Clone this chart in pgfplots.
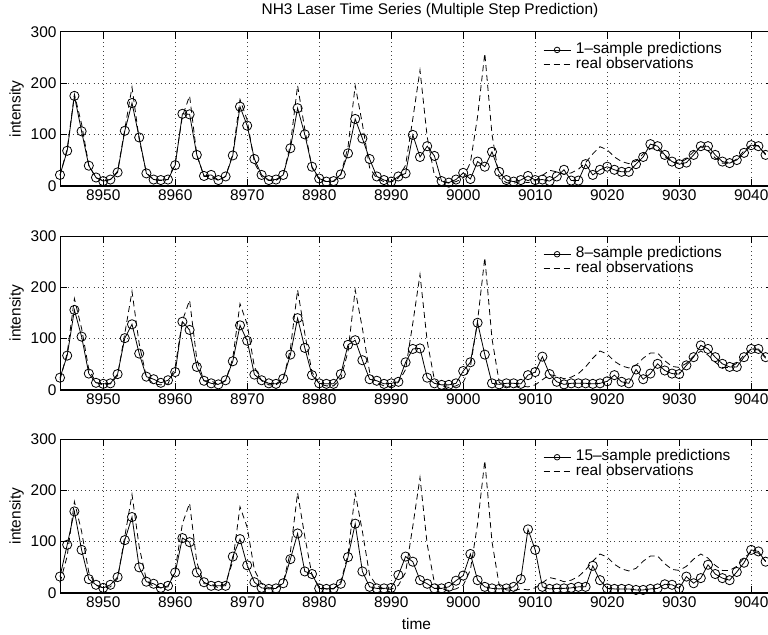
\documentclass[border=0pt]{standalone}
\usepackage{fontspec}
\setmainfont{Liberation Sans}
\usepackage{pgfplots}
\usepackage{pgfplotstable}
\pgfplotsset{compat=1.18}

% NH3 laser intensity: observations and 1-, 8- and 15-step-ahead predictions
\pgfplotstableread{
t    real  p1   p8   p15
8944  20   21   24   32
8945  72   68   67   94
8946 178  175  156  159
8947 120  106  104   84
8948  40   39   32   27
8949  15   16   14   16
8950  10    9   12   10
8951  12   12   13   16
8952  28   26   31   31
8953 110  107  101  103
8954 192  161  128  148
8955  90   94   71   50
8956  25   24   26   22
8957  12   12   21   18
8958  10   11   14   10
8959  12   12   19   14
8960  45   40   35   40
8961 135  140  133  107
8962 175  139  117   99
8963  60   60   45   40
8964  18   19   18   21
8965  18   21   13   14
8966  10   11   11   14
8967  18   18   19   14
8968  62   59   56   71
8969 168  154  126  105
8970 128  117   96   54
8971  45   52   30   21
8972  18   21   19   10
8973  10   11   13    8
8974  10   12   12    9
8975  20   21   22   19
8976  80   73   69   66
8977 195  151  140  116
8978 110  100   82   42
8979  35   37   29   37
8980  12   14   13    9
8981   8    8   12    8
8982   8    9   12    9
8983  22   22   31   18
8984  75   63   88   70
8985 195  130   97  135
8986 120   92   58   42
8987  35   52   21   12
8988  14   18   18    9
8989   8   11   12    9
8990   7    8   13   10
8991  15   18   16   35
8992  40   24   54   71
8993 130   99   80   61
8994 225   56   81   25
8995  95   77   24   18
8996  20   58   13    9
8997   8    9   10    9
8998   5    6   10   12
8999   8   12   13   24
9000  15   25   37   34
9001  45   13   54   76
9002 135   47  131   25
9003 258   37   69   12
9004 100   66   13    9
9005  15   27   11    8
9006   6   11   13    9
9007   5    8   13   12
9008   8   11   12   27
9009   6   19   29  124
9010  10   11   35   84
9011  20   12   65   12
9012  30    9   31    8
9013  27   18   16    9
9014  22   31   11    9
9015  25   10   13   10
9016  32   10   13   12
9017  45   42   13   12
9018  62   21   12   53
9019  76   31   13   25
9020  70   37   17    9
9021  56   31   29    8
9022  47   27   16    8
9023  43   27   13    8
9024  48   42   40    6
9025  62   56   21    6
9026  72   81   32    8
9027  72   77   51    9
9028  57   60   38   17
9029  46   47   32   16
9030  44   42   31    9
9031  52   45   48   32
9032  66   60   64   19
9033  76   77   87   29
9034  68   77   80   55
9035  54   60   64   37
9036  44   47   51   29
9037  44   44   45   25
9038  52   50   45   41
9039  68   64   64   59
9040  80   79   80   84
9041  78   77   80   81
9042  62   60   64   61
}\laser

\newcommand{\labfont}{\fontsize{15.5}{17}\selectfont}

\pgfplotsset{
  laserpanel/.style={
    scale only axis,
    width=712.8bp, height=154bp,
    xmin=8944, xmax=9043, ymin=0, ymax=300,
    xtick={8950,8960,...,9040}, ytick={0,100,200,300},
    scaled x ticks=false, scaled y ticks=false,
    /pgf/number format/1000 sep={},
    /pgf/number format/assume math mode=true,
    tick align=inside, tick pos=both,
    major tick length=7bp,
    grid=major,
    major grid style={black!75, line width=0.7bp, dash pattern=on 0.8bp off 3.4bp},
    axis line style={line width=0.9bp},
    every tick/.style={black, line width=0.7bp},
    ticklabel style={font=\labfont},
    label style={font=\labfont},
    ylabel={intensity},
    clip=false,
    legend cell align=left,
    legend style={draw=none, fill=none, font=\labfont,
      at={(rel axis cs:0.6776,0.93)}, anchor=north west,
      inner sep=0pt, row sep=0pt, column sep=5bp,
      nodes={inner sep=0pt, text height=11bp, text depth=3.5bp}},
  },
  pred/.style={black, line width=0.8bp, mark=o, mark size=4.6bp,
    mark options={solid, line width=0.8bp},
    legend image post style={mark size=2.8bp}},
  real/.style={black, line width=0.8bp, dash pattern=on 6bp off 4bp},
  legend image code/.code={%
    \draw[mark repeat=2, mark phase=2, #1]
      plot coordinates {(0bp,0bp) (13.5bp,0bp) (27bp,0bp)};},
}

\begin{document}
\begin{tikzpicture}
% top panel: 1-step
\begin{axis}[laserpanel, at={(60bp,-185.7bp)}, anchor=south west,
  title={NH3 Laser Time Series (Multiple Step Prediction)},
  every axis title/.style={font=\labfont, at={(rel axis cs:0.5,1)},
    anchor=base, xshift=13.6bp, yshift=17.7bp}]
  \addplot[pred] table[x=t, y=p1] {\laser};
  \addplot[real] table[x=t, y=real] {\laser};
  \legend{1--sample predictions, real observations}
  \draw[line width=1.6bp] (rel axis cs:0,0) -- (rel axis cs:1,0);
\end{axis}
% middle panel: 8-step
\begin{axis}[laserpanel, at={(60bp,-390bp)}, anchor=south west]
  \addplot[pred] table[x=t, y=p8] {\laser};
  \addplot[real] table[x=t, y=real] {\laser};
  \legend{8--sample predictions, real observations}
  \draw[line width=1.6bp] (rel axis cs:0,0) -- (rel axis cs:1,0);
\end{axis}
% bottom panel: 15-step
\begin{axis}[laserpanel, at={(60bp,-593bp)}, anchor=south west,
  xlabel={time},
  xlabel style={at={(rel axis cs:0.5,0)}, anchor=base, yshift=-36bp}]
  \addplot[pred] table[x=t, y=p15] {\laser};
  \addplot[real] table[x=t, y=real] {\laser};
  \legend{15--sample predictions, real observations}
  \draw[line width=1.6bp] (rel axis cs:0,0) -- (rel axis cs:1,0);
\end{axis}
\pgfresetboundingbox
\useasboundingbox (0bp,0bp) rectangle (768bp,-635bp);
\end{tikzpicture}
\end{document}
